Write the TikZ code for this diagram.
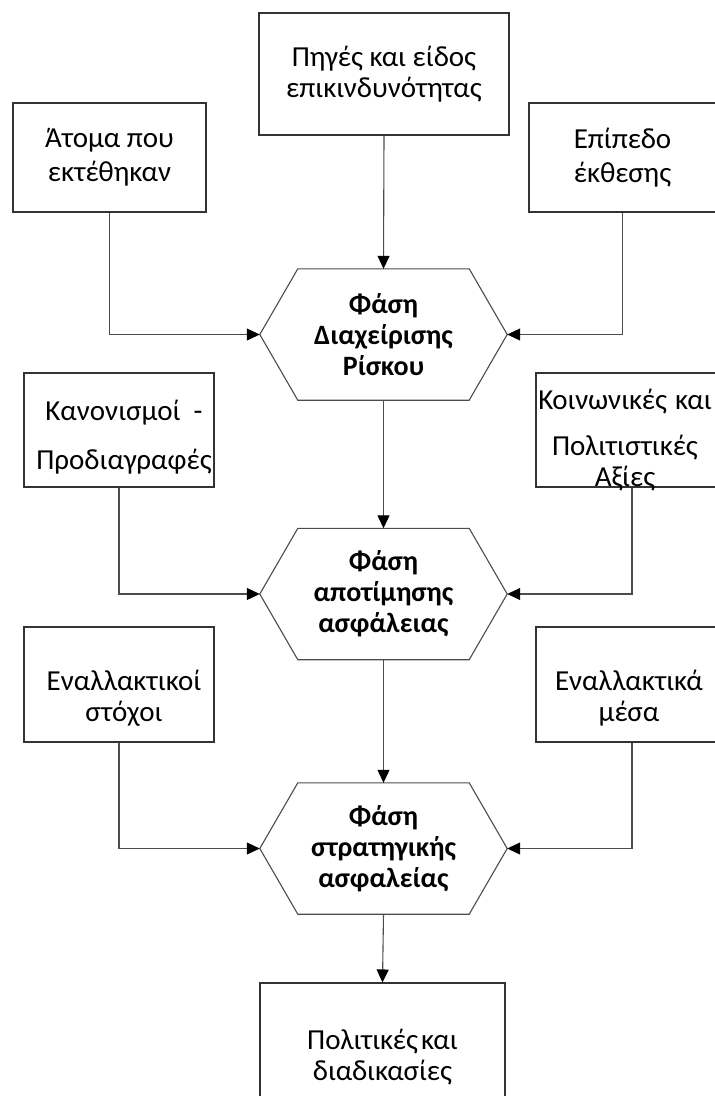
\documentclass[tikz,border=0pt]{standalone}
\usepackage{fontspec}
\setmainfont{Carlito}
\usetikzlibrary{arrows.meta,calc}
\begin{document}
\begin{tikzpicture}[x=1pt,y=-1pt,
  frame/.style={draw=black!80, line width=1.1pt, rectangle, inner sep=0pt},
  box/.style={frame, align=center, font=\fontsize{29}{31}\selectfont},
  txt/.style={align=center, inner sep=0pt, font=\fontsize{29}{31}\selectfont},
  phase/.style={rectangle, inner sep=0pt, align=center,
    font=\fontsize{28}{31}\selectfont\bfseries,
    minimum width=247pt, minimum height=131pt},
  hexline/.style={draw=black!70, line width=1.1pt, line join=miter},
  link/.style={draw=black!70, line width=1.1pt,
    -{Triangle[length=13pt,width=12pt,color=black]}}
]
\useasboundingbox (0,0) rectangle (715,1096);
\clip (0,0) rectangle (715,1096);

% inputs of the first phase
\node[box, minimum width=250pt, minimum height=122pt] (src) at (384,74)
  {Πηγές και είδος\\επικινδυνότητας};
\node[box, minimum width=193pt, minimum height=109pt,
  font=\fontsize{29}{34}\selectfont] (exp) at (109.5,157.5)
  {Άτομα που\\εκτέθηκαν};
\node[box, minimum width=187pt, minimum height=109pt,
  font=\fontsize{29}{34}\selectfont] (lvl) at (622.5,157.5)
  {Επίπεδο\\έκθεσης};

% the three phases
\node[phase] (risk) at (383.5,334.5) {Φάση\\Διαχείρισης\\Ρίσκου};
\node[phase] (eval) at (383.5,594) {Φάση\\αποτίμησης\\ασφάλειας};
\node[phase] (strat) at (383.5,848.5) {Φάση\\στρατηγικής\\ασφαλείας};
\foreach \h in {risk,eval,strat}
  \draw[hexline] (\h.west) -- ([xshift=38pt]\h.north west)
    -- ([xshift=-38pt]\h.north east) -- (\h.east)
    -- ([xshift=-38pt]\h.south east) -- ([xshift=38pt]\h.south west) -- cycle;

% inputs of the second phase
\node[frame, minimum width=190pt, minimum height=114pt] (reg) at (119,430) {};
\node[txt] (regt) at (124,437) {Κανονισμοί\ \ -\\[18pt]Προδιαγραφές};
\node[frame, minimum width=180pt, minimum height=114pt] (val) at (626,430) {};
\node[txt] (valt) at (625,440) {Κοινωνικές\hspace{8pt}και\\[15pt]Πολιτιστικές\\Αξίες};

% inputs of the third phase
\node[frame, minimum width=190pt, minimum height=115pt] (alt) at (119,684.5) {};
\node[txt] (altt) at (124,698) {Εναλλακτικοί\\στόχοι};
\node[frame, minimum width=188pt, minimum height=115pt] (means) at (630,684.5) {};
\node[txt] (meanst) at (629,698) {Εναλλακτικά\\μέσα};

% outcome
\node[box, minimum width=245pt, minimum height=149pt] (pol) at (382.5,1057.5)
  {Πολιτικές\hspace{3pt}και\\διαδικασίες};

% connectors
\draw[link] (src.south) -- (risk.north);
\draw[link] (exp.south) |- (risk.west);
\draw[link] (lvl.south) |- (risk.east);
\draw[link] (risk.south) -- (eval.north);
\draw[link] (reg.south) |- (eval.west);
\draw[link] ([xshift=6pt]val.south) |- (eval.east);
\draw[link] (eval.south) -- (strat.north);
\draw[link] (alt.south) |- (strat.west);
\draw[link] ([xshift=2pt]means.south) |- (strat.east);
\draw[link] (strat.south) -- (pol.north);
\end{tikzpicture}
\end{document}
